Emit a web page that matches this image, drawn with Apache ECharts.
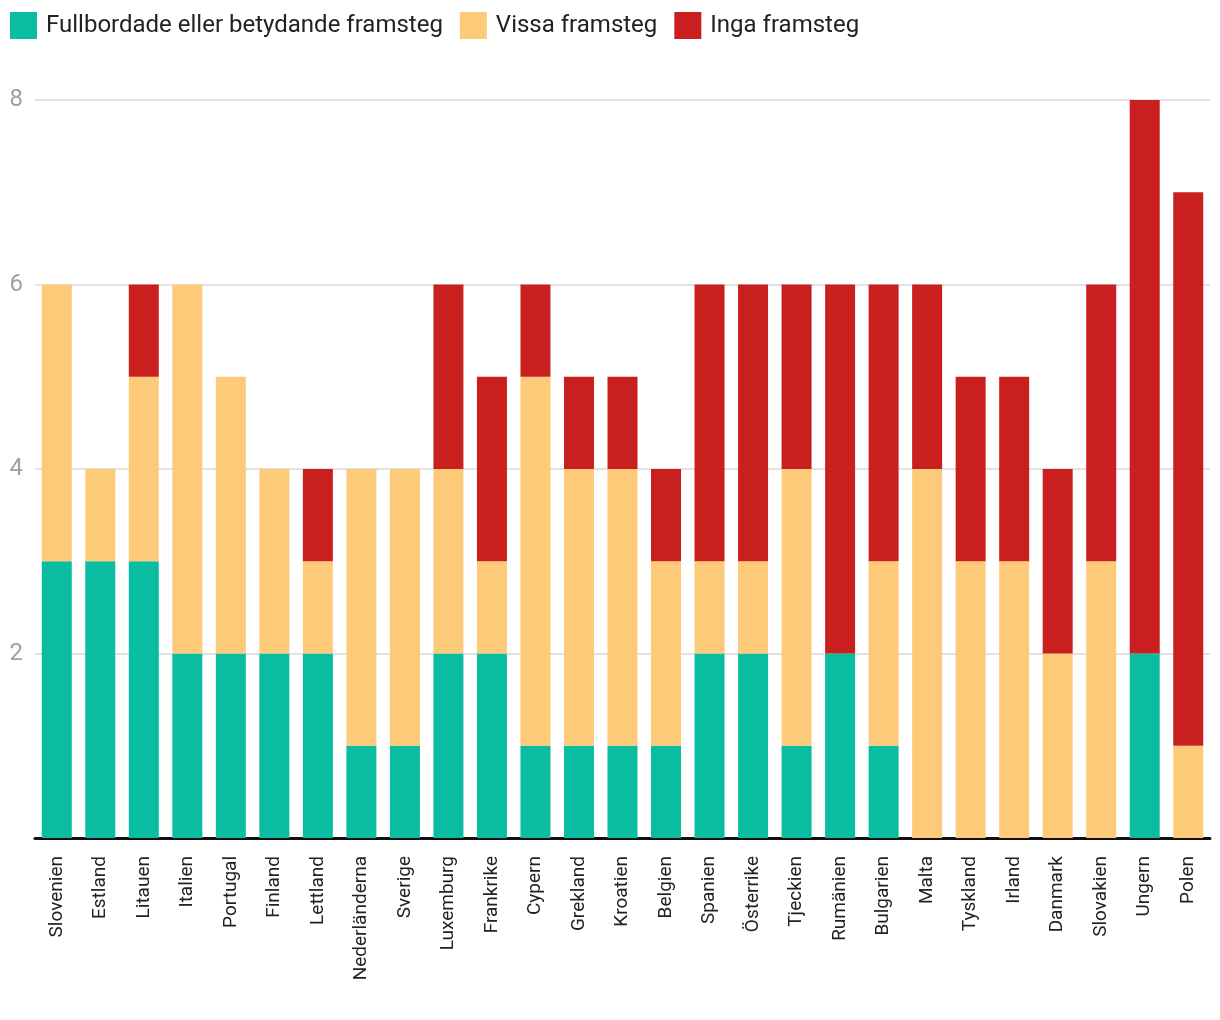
<!DOCTYPE html>
<html>
<head>
<meta charset="utf-8">
<script src="https://cdn.jsdelivr.net/npm/echarts@6/dist/echarts.min.js"></script>
<style>html,body{margin:0;padding:0;background:#fff}#c{width:1220px;height:1020px}</style>
</head>
<body>
<div id="c"></div>
<script>
const categories = ["Slovenien","Estland","Litauen","Italien","Portugal","Finland","Lettland","Nederländerna","Sverige","Luxemburg","Frankrike","Cypern","Grekland","Kroatien","Belgien","Spanien","Österrike","Tjeckien","Rumänien","Bulgarien","Malta","Tyskland","Irland","Danmark","Slovakien","Ungern","Polen"];
const fullbordade = [3,3,3,2,2,2,2,1,1,2,2,1,1,1,1,2,2,1,2,1,0,0,0,0,0,2,0];
const vissa       = [3,1,2,4,3,2,1,3,3,2,1,4,3,3,2,1,1,3,0,2,4,3,3,2,3,0,1];
const inga        = [0,0,1,0,0,0,1,0,0,2,2,1,1,1,1,3,3,2,4,3,2,2,2,2,3,6,6];
const yTicks = [2,4,6,8];

const chart = echarts.init(document.getElementById('c'), null, {renderer:'canvas'});
const font = 'Roboto, "Noto Sans", sans-serif';
function ser(name, data, color){
  return {name, type:'bar', stack:'s', data, barWidth:30, itemStyle:{color}, emphasis:{disabled:true}};
}
chart.setOption({
  animation:false,
  textStyle:{fontFamily:font},
  legend:{
    left:5, top:7, itemWidth:27, itemHeight:27, itemGap:17, icon:'rect',
    textStyle:{fontSize:24, color:'#222', fontFamily:font, padding:[0,0,0,4]},
    data:['Fullbordade eller betydande framsteg','Vissa framsteg','Inga framsteg']
  },
  grid:{left:35, right:10, top:100, bottom:182, containLabel:false},
  xAxis:{
    type:'category', data:categories,
    axisLine:{lineStyle:{color:'#111', width:3}},
    axisTick:{show:false},
    axisLabel:{rotate:90, interval:0, fontSize:19, color:'#222', margin:18, fontFamily:font}
  },
  yAxis:{
    type:'value', min:0, max:8, interval:2,
    axisLine:{show:false}, axisTick:{show:false},
    splitLine:{lineStyle:{color:'#e2e2e2', width:2}},
    axisLabel:{fontSize:24, color:'#a0a0a0', margin:12, fontFamily:font,
      formatter:v => yTicks.includes(v) ? String(v) : ''}
  },
  series:[
    ser('Fullbordade eller betydande framsteg', fullbordade, '#0abda0'),
    ser('Vissa framsteg', vissa, '#fdca7a'),
    ser('Inga framsteg', inga, '#c91f1f')
  ]
});
</script>
</body>
</html>
